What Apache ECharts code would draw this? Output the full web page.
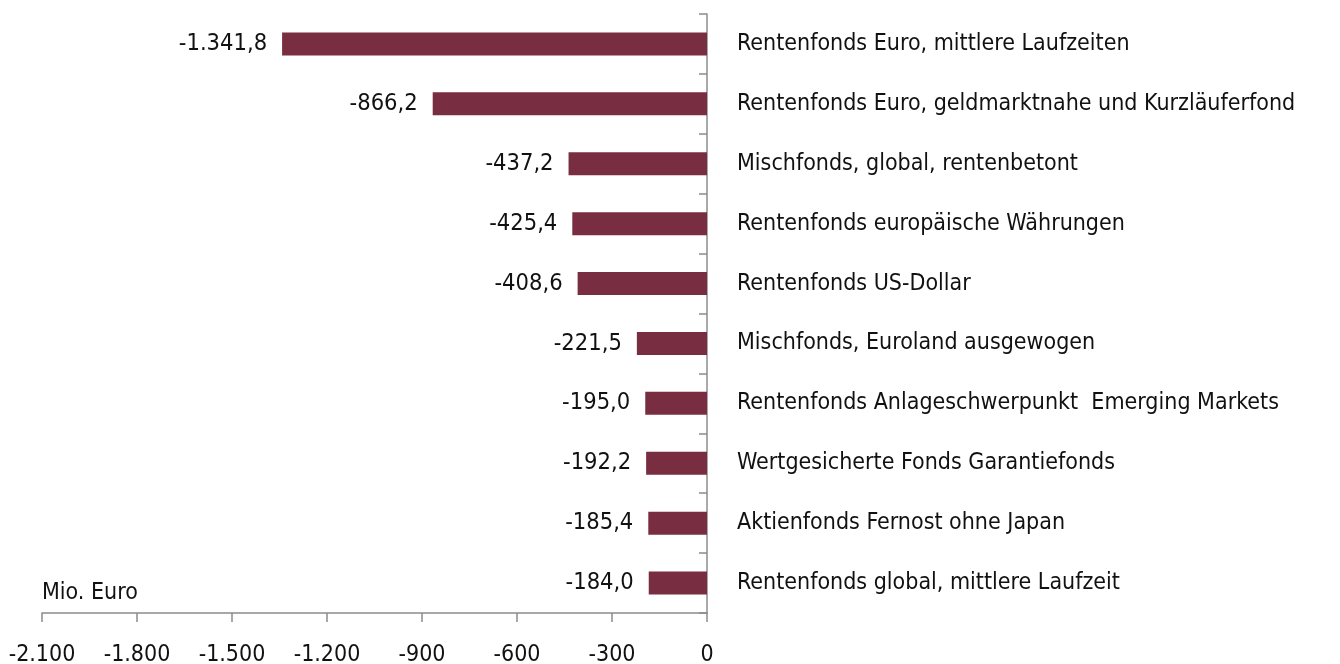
<!DOCTYPE html>
<html><head><meta charset="utf-8">
<script src="https://cdn.jsdelivr.net/npm/echarts@6/dist/echarts.min.js"></script>
<style>html,body{margin:0;padding:0;background:#fff}#c{width:1340px;height:664px}</style>
</head><body><div id="c"></div>
<script>
const categories = [
  "Rentenfonds Euro, mittlere Laufzeiten",
  "Rentenfonds Euro, geldmarktnahe und Kurzläuferfond",
  "Mischfonds, global, rentenbetont",
  "Rentenfonds europäische Währungen",
  "Rentenfonds US-Dollar",
  "Mischfonds, Euroland ausgewogen",
  "Rentenfonds Anlageschwerpunkt  Emerging Markets",
  "Wertgesicherte Fonds Garantiefonds",
  "Aktienfonds Fernost ohne Japan",
  "Rentenfonds global, mittlere Laufzeit"
];
const values = [-1341.8, -866.2, -437.2, -425.4, -408.6, -221.5, -195.0, -192.2, -185.4, -184.0];
const unitLabel = "Mio. Euro";

const FONT = '"Liberation Sans Narrow", "DejaVu Sans Condensed", sans-serif';
function de(v, dec) {
  const neg = v < 0;
  let s = Math.abs(v).toFixed(dec);
  let [i, f] = s.split('.');
  i = i.replace(/\B(?=(\d{3})+(?!\d))/g, '.');
  return (neg ? '-' : '') + i + (f ? ',' + f : '');
}
const chart = echarts.init(document.getElementById('c'));
chart.setOption({
  animation: false,
  grid: { left: 42, right: 633, top: 14, bottom: 51, containLabel: false, outerBoundsMode: 'none' },
  xAxis: {
    type: 'value', min: -2100, max: 0, interval: 300,
    axisLine: { show: true, lineStyle: { color: '#8c8c8c', width: 1.5 } },
    axisTick: { show: true, length: 9, lineStyle: { color: '#8c8c8c', width: 1.5 } },
    splitLine: { show: false },
    axisLabel: { color: '#111', fontFamily: FONT, fontSize: 23, margin: 31, formatter: v => de(v, 0) }
  },
  yAxis: {
    type: 'category', data: categories, inverse: true, position: 'right',
    axisLine: { show: true, lineStyle: { color: '#8c8c8c', width: 1.5 } },
    axisTick: { show: true, inside: true, length: 8, lineStyle: { color: '#8c8c8c', width: 1.5 } },
    axisLabel: { color: '#111', fontFamily: FONT, fontSize: 23, margin: 30, align: 'left', padding: [3, 0, 0, 0] }
  },
  series: [{
    type: 'bar', data: values, barWidth: 23,
    itemStyle: { color: '#782D40' },
    label: { show: true, position: 'left', distance: 15, color: '#111', fontFamily: FONT, fontSize: 23.5,
      formatter: p => de(p.value, 1) }
  }],
  graphic: [{
    type: 'text', left: 42, top: 582,
    style: { text: unitLabel, fill: '#111', font: '23px ' + FONT }
  }]
});
</script></body></html>
